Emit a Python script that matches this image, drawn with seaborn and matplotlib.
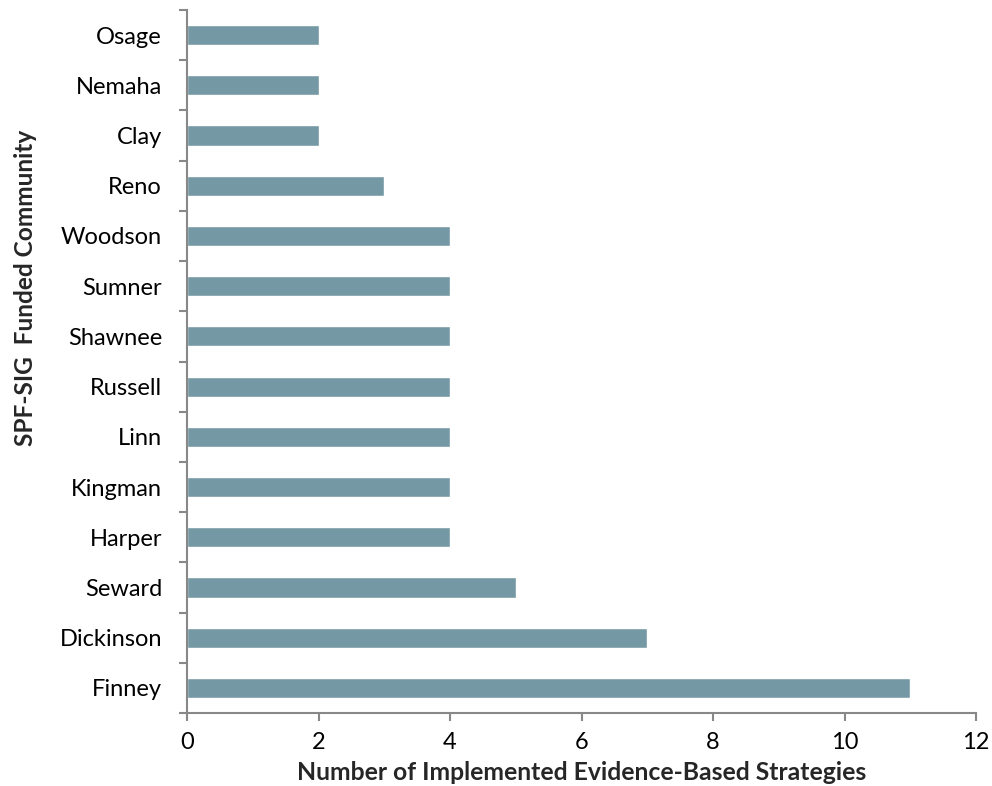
import matplotlib
matplotlib.use("Agg")
import matplotlib.pyplot as plt
import seaborn as sns
import pandas as pd
import numpy as np
from matplotlib.ticker import FixedLocator, MultipleLocator

communities = ["Osage", "Nemaha", "Clay", "Reno", "Woodson", "Sumner", "Shawnee",
               "Russell", "Linn", "Kingman", "Harper", "Seward", "Dickinson", "Finney"]
strategies = [2, 2, 2, 3, 4, 4, 4, 4, 4, 4, 4, 5, 7, 11]

df = pd.DataFrame({"community": communities, "strategies": strategies})

sns.set_theme(style="white")
plt.rcParams["font.family"] = ["Lato", "DejaVu Sans"]

fig = plt.figure(figsize=(9.92, 7.86), dpi=100)
ax = fig.add_axes([187/992, 1-713/786, (976-187)/992, (713-10)/786])

sns.barplot(data=df, x="strategies", y="community", orient="h", color="#7599A4",
            saturation=1, width=0.4, ax=ax)

ax.set_xlim(0, 12)
ax.set_ylim(len(communities)-0.5, -0.5)
ax.xaxis.set_major_locator(MultipleLocator(2))
ax.yaxis.set_minor_locator(FixedLocator(np.arange(-0.5, len(communities), 1.0)))
ax.tick_params(axis="y", which="major", length=0, pad=18, labelsize=17, colors="black")
ax.tick_params(axis="y", which="minor", length=5.5, width=1.5, color="#888888", left=True)
ax.tick_params(axis="x", which="major", length=5.5, width=1.5, color="#888888", bottom=True,
               labelsize=17, pad=8, labelcolor="black")

for s in ["top", "right"]:
    ax.spines[s].set_visible(False)
for s in ["left", "bottom"]:
    ax.spines[s].set_color("#888888")
    ax.spines[s].set_linewidth(1.5)

ax.set_xlabel("Number of Implemented Evidence-Based Strategies", fontsize=17.8,
              fontweight="bold")
ax.xaxis.set_label_coords(0.5, (713-761)/703)
ax.set_ylabel("SPF-SIG  Funded Community", fontsize=17.6, fontweight="bold")
ax.yaxis.set_label_coords((37-187)/789, (713-287.5)/703)

fig.savefig("out.png", dpi=100)
